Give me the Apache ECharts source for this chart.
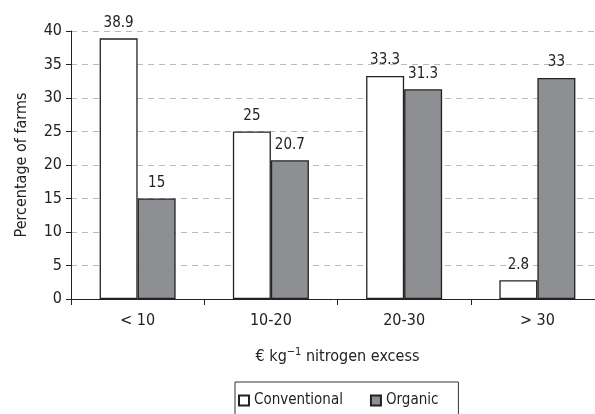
<!DOCTYPE html>
<html><head><meta charset="utf-8">
<script src="https://cdn.jsdelivr.net/npm/echarts@6/dist/echarts.min.js"></script>
<style>html,body{margin:0;padding:0;background:#fff}#c{width:595px;height:414px}</style>
</head><body><div id="c"></div>
<script>
const categories = ['< 10', '10-20', '20-30', '> 30'];
const conventional = [38.9, 25, 33.3, 2.8];
const organic = [15, 20.7, 31.3, 33];
const yTicks = {min: 0, max: 40, interval: 5};

const FONT = "'DejaVu Sans Condensed', 'Roboto', sans-serif";
const chart = echarts.init(document.getElementById('c'), null, {renderer: 'canvas'});
chart.setOption({
  animation: false,
  textStyle: {fontFamily: FONT},
  grid: {left: 71, top: 31, width: 533, height: 268, containLabel: false, outerBoundsMode: 'none'},
  legend: {
    left: 235, top: 382, width: 223,
    padding: [11, 20, 24, 3],
    borderColor: '#333', borderWidth: 1,
    itemWidth: 10, itemHeight: 10, itemGap: 27,
    icon: 'rect',
    textStyle: {fontFamily: FONT, fontSize: 15, color: '#222'},
    data: ['Conventional', 'Organic']
  },
  xAxis: {
    type: 'category', data: categories,
    axisLine: {lineStyle: {color: '#222', width: 1}},
    axisTick: {show: true, length: 6, alignWithLabel: false, lineStyle: {color: '#222'}},
    axisLabel: {fontFamily: FONT, fontSize: 16, color: '#222', margin: 14},
    name: '€ kg{sup|−1} nitrogen excess', nameLocation: 'middle', nameGap: 48,
    nameTextStyle: {fontFamily: FONT, fontSize: 16, color: '#222', lineHeight: 20,
      rich: {sup: {fontFamily: FONT, fontSize: 11, color: '#222', verticalAlign: 'top', lineHeight: 12}}}
  },
  yAxis: {
    type: 'value', min: yTicks.min, max: yTicks.max, interval: yTicks.interval,
    axisLine: {show: true, lineStyle: {color: '#222', width: 1}},
    axisTick: {show: true, length: 5, lineStyle: {color: '#222'}},
    axisLabel: {fontFamily: FONT, fontSize: 16, color: '#222', margin: 9},
    splitLine: {show: true, lineStyle: {color: '#bbb', type: [6, 5], width: 1}},
    name: 'Percentage of farms', nameLocation: 'middle', nameGap: 41, nameRotate: 90,
    nameTextStyle: {fontFamily: FONT, fontSize: 16, color: '#222'}
  },
  series: [
    {
      name: 'Conventional', type: 'bar', data: conventional, barWidth: 38, barGap: '0%',
      itemStyle: {color: '#fff', borderColor: '#222', borderWidth: 1.3},
      label: {show: true, position: 'top', distance: 8, fontFamily: FONT, fontSize: 15, color: '#222'}
    },
    {
      name: 'Organic', type: 'bar', data: organic, barWidth: 38, barGap: '0%',
      itemStyle: {color: '#8e8f93', borderColor: '#222', borderWidth: 1.3},
      label: {show: true, position: 'top', distance: 8, fontFamily: FONT, fontSize: 15, color: '#222'}
    }
  ]
});
</script></body></html>
